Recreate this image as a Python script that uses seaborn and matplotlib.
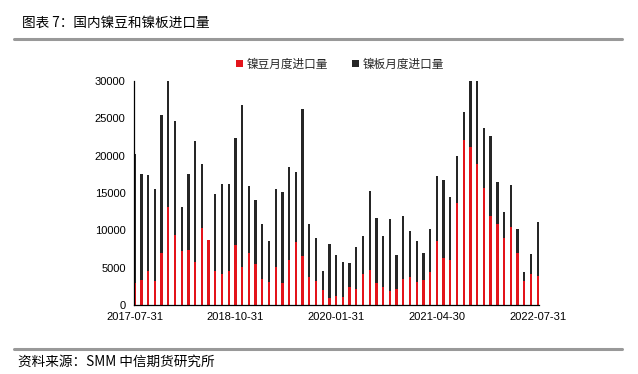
import matplotlib
matplotlib.use("Agg")
import matplotlib.pyplot as plt
from matplotlib.patches import Patch
from matplotlib.lines import Line2D
import seaborn as sns
import pandas as pd

# ---- data ----
months = pd.date_range("2017-07-31", "2022-07-31", freq="ME").strftime("%Y-%m-%d").tolist()

nickel_bean = [3000, 3400, 4500, 3200, 6900, 13100, 9400, 7200, 7400, 5750,
               10300, 8700, 4500, 4200, 4500, 8000, 5100, 6900, 5500, 3500,
               3100, 5100, 3000, 6000, 8400, 6600, 3700, 3200, 2000, 1000,
               1250, 1100, 2400, 2100, 4200, 4700, 2900, 2400, 1900, 2200,
               3500, 3700, 3100, 3400, 4400, 8600, 6300, 6000, 13700, 22100,
               21200, 18900, 15700, 11900, 10800, 9000, 10500, 7000, 3200, 4200,
               3900]
total = [20200, 17600, 17400, 15600, 25400, 30500, 24700, 13100, 17500, 22000,
         18900, 8700, 14800, 16200, 16200, 22400, 26800, 15900, 14000, 10900,
         8600, 15500, 15200, 18500, 17800, 26300, 10800, 9000, 4600, 8200,
         6700, 5800, 5600, 7800, 9200, 15300, 11700, 9300, 11500, 6700,
         11900, 9900, 8600, 6900, 10200, 17300, 16700, 14400, 19900, 25800,
         30500, 30500, 23700, 22600, 16500, 12400, 16100, 10200, 4400, 6800,
         11100]
nickel_plate = [t - b for t, b in zip(total, nickel_bean)]

tick_idx = [0, 15, 30, 45, 60]
tick_labels = [months[i] for i in tick_idx]
series_names = ["镍豆月度进口量", "镍板月度进口量"]

RED = "#E3141B"
BLACK = "#262626"

df = pd.DataFrame({"month": months, "bean": nickel_bean,
                   "plate": nickel_plate, "total": total})

sns.set_theme(style="white")
plt.rcParams["font.family"] = ["Liberation Sans", "Noto Sans CJK SC", "DejaVu Sans"]
CJK = ["Noto Sans CJK SC", "DejaVu Sans"]

fig = plt.figure(figsize=(6.38, 3.74), dpi=100)
ax = fig.add_axes([134 / 638, 1 - 305 / 374, (539 - 134) / 638, 224 / 374])

sns.barplot(data=df, x="month", y="total", color=BLACK, width=0.34,
            saturation=1, ax=ax, zorder=2, linewidth=0)
sns.barplot(data=df, x="month", y="bean", color=RED, width=0.34,
            saturation=1, ax=ax, zorder=3, linewidth=0)
for p in ax.patches:
    p.set_antialiased(False)

ax.set_ylim(0, 30000)
ax.set_xlim(-0.1, 60.2)
ax.set_yticks(range(0, 30001, 5000))
ax.set_yticklabels([str(v) for v in range(0, 30001, 5000)], fontsize=8, color="#000000")
ax.set_xticks(tick_idx)
ax.set_xticklabels(tick_labels, fontsize=8, color="#000000")
ax.set_xlabel("")
ax.set_ylabel("")
ax.tick_params(axis="both", direction="in", length=3, width=0.8, color="#000000", pad=6)
ax.tick_params(axis="x", pad=5)
for s in ["top", "right"]:
    ax.spines[s].set_visible(False)
for s in ["left", "bottom"]:
    ax.spines[s].set_color("#000000")
    ax.spines[s].set_linewidth(0.9)
    ax.spines[s].set_zorder(5)
ax.grid(False)

handles = [Patch(facecolor=RED, edgecolor="none"), Patch(facecolor=BLACK, edgecolor="none")]
leg = fig.legend(handles, series_names, loc="center", bbox_to_anchor=(340 / 638, 1 - 64 / 374),
                 ncol=2, frameon=False, prop={"family": CJK, "size": 8.4},
                 handlelength=0.6, handleheight=0.6, handletextpad=0.3, columnspacing=2.0)

# title, rules and source
fig.text(22 / 638, 1 - 23 / 374, "图表 7：国内镍豆和镍板进口量", fontsize=9.8,
         family=CJK, va="center", ha="left", color="#000000")
fig.add_artist(Line2D([14 / 638, 622 / 638], [1 - 39 / 374] * 2, color="#999999", lw=2.2))
fig.add_artist(Line2D([14 / 638, 622 / 638], [1 - 349 / 374] * 2, color="#999999", lw=2.2))
fig.text(18 / 638, 1 - 362 / 374, "资料来源：SMM 中信期货研究所", fontsize=9.8,
         family=CJK, va="center", ha="left", color="#000000")

fig.savefig("out.png", dpi=100)
